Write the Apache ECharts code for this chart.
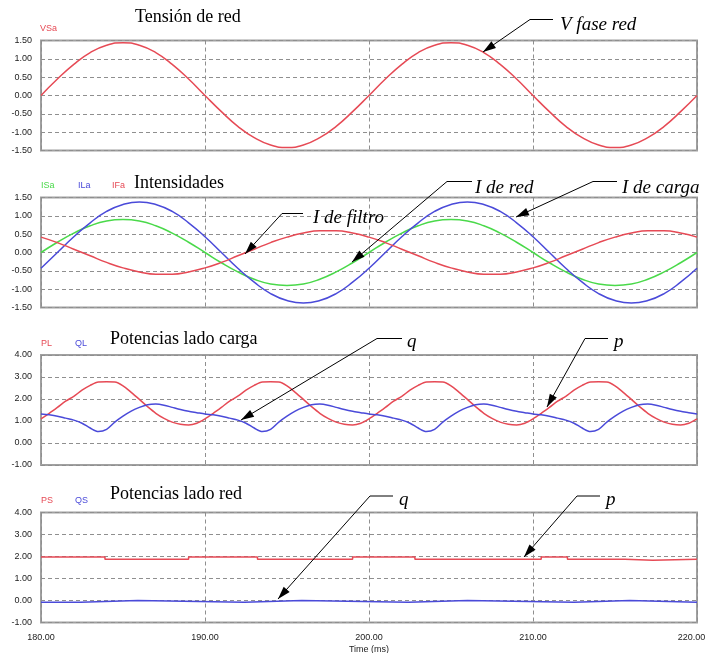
<!DOCTYPE html>
<html>
<head>
<meta charset="utf-8">
<script src="https://cdn.jsdelivr.net/npm/echarts@6/dist/echarts.min.js"></script>
<style>
    html, body { margin: 0; padding: 0; background: #fff; }
    #chart { width: 709px; height: 653px; }
</style>
</head>
<body>
<div id="chart"></div>
<script>
// tiempos de muestreo (ms)
const tCoarse = [180, 181, 182, 183, 184, 185, 186, 187, 188, 189, 190, 191, 192, 193, 194, 195, 196, 197, 198, 199,
    200, 201, 202, 203, 204, 205, 206, 207, 208, 209, 210, 211, 212, 213, 214, 215, 216, 217, 218, 219, 220];
const tFine = [180, 180.5, 181, 181.5, 182, 182.5, 183, 183.5, 184, 184.5, 185, 185.5, 186, 186.5, 187, 187.5, 188, 188.5, 189, 189.5,
    190, 190.5, 191, 191.5, 192, 192.5, 193, 193.5, 194, 194.5, 195, 195.5, 196, 196.5, 197, 197.5, 198, 198.5, 199, 199.5,
    200, 200.5, 201, 201.5, 202, 202.5, 203, 203.5, 204, 204.5, 205, 205.5, 206, 206.5, 207, 207.5, 208, 208.5, 209, 209.5,
    210, 210.5, 211, 211.5, 212, 212.5, 213, 213.5, 214, 214.5, 215, 215.5, 216, 216.5, 217, 217.5, 218, 218.5, 219, 219.5, 220];

// Tensión de red
const vSa = [0.00, 0.45, 0.85, 1.17, 1.37, 1.44, 1.37, 1.17, 0.85, 0.45, 0.00, -0.44, -0.84, -1.15, -1.35, -1.42, -1.35, -1.15, -0.84, -0.44,
    0.00, 0.45, 0.85, 1.17, 1.37, 1.44, 1.37, 1.17, 0.85, 0.45, 0.00, -0.44, -0.84, -1.15, -1.35, -1.42, -1.35, -1.15, -0.84, -0.44, 0.00];

// Intensidades
const iSa = [0.00, 0.28, 0.53, 0.73, 0.86, 0.90, 0.86, 0.73, 0.53, 0.28, 0.00, -0.28, -0.53, -0.73, -0.86, -0.90, -0.86, -0.73, -0.53, -0.28,
    0.00, 0.28, 0.53, 0.73, 0.86, 0.90, 0.86, 0.73, 0.53, 0.28, 0.00, -0.28, -0.53, -0.73, -0.86, -0.90, -0.86, -0.73, -0.53, -0.28, 0.00];
const iLa = [-0.43, 0.00, 0.43, 0.81, 1.12, 1.31, 1.38, 1.31, 1.12, 0.81, 0.43, 0.00, -0.43, -0.81, -1.12, -1.31, -1.38, -1.31, -1.12, -0.81,
    -0.43, 0.00, 0.43, 0.81, 1.12, 1.31, 1.38, 1.31, 1.12, 0.81, 0.43, 0.00, -0.43, -0.81, -1.12, -1.31, -1.38, -1.31, -1.12, -0.81, -0.43];
const iFa = [0.42, 0.27, 0.09, -0.09, -0.27, -0.42, -0.53, -0.59, -0.59, -0.53, -0.42, -0.27, -0.09, 0.09, 0.27, 0.42, 0.53, 0.59, 0.59, 0.53,
    0.42, 0.27, 0.09, -0.09, -0.27, -0.42, -0.53, -0.59, -0.59, -0.53, -0.42, -0.27, -0.09, 0.09, 0.27, 0.42, 0.53, 0.59, 0.59, 0.53, 0.42];

// Potencias lado carga
const pL = [1.10, 1.35, 1.62, 1.90, 2.12, 2.40, 2.62, 2.77, 2.78, 2.77, 2.60, 2.30, 1.98, 1.65, 1.35, 1.12, 0.95, 0.85, 0.82, 0.90,
    1.10, 1.35, 1.62, 1.90, 2.13, 2.40, 2.62, 2.77, 2.78, 2.77, 2.60, 2.30, 1.98, 1.65, 1.35, 1.12, 0.95, 0.85, 0.82, 0.90,
    1.10, 1.35, 1.62, 1.90, 2.12, 2.40, 2.62, 2.77, 2.78, 2.77, 2.60, 2.30, 1.98, 1.65, 1.35, 1.12, 0.95, 0.85, 0.82, 0.90,
    1.10, 1.35, 1.62, 1.90, 2.12, 2.40, 2.62, 2.77, 2.78, 2.77, 2.60, 2.30, 1.98, 1.65, 1.35, 1.12, 0.95, 0.85, 0.82, 0.90, 1.10];
const qL = [1.32, 1.28, 1.22, 1.13, 1.04, 0.90, 0.68, 0.52, 0.62, 0.95, 1.22, 1.45, 1.62, 1.74, 1.77, 1.72, 1.62, 1.52, 1.44, 1.38,
    1.32, 1.28, 1.22, 1.13, 1.04, 0.90, 0.68, 0.52, 0.62, 0.95, 1.22, 1.45, 1.62, 1.74, 1.77, 1.72, 1.62, 1.52, 1.44, 1.38,
    1.32, 1.28, 1.22, 1.13, 1.04, 0.90, 0.68, 0.52, 0.62, 0.95, 1.22, 1.45, 1.62, 1.74, 1.77, 1.72, 1.62, 1.52, 1.44, 1.38,
    1.32, 1.28, 1.22, 1.13, 1.04, 0.90, 0.68, 0.52, 0.62, 0.95, 1.22, 1.45, 1.62, 1.74, 1.77, 1.72, 1.62, 1.52, 1.44, 1.38, 1.32];

// Potencias lado red (escalones)
const psTime = [180, 183.9, 189.0, 193.2, 199.0, 202.8, 210.5, 212.1, 215.6, 217.3, 220];
const psValue = [1.98, 1.88, 1.98, 1.88, 1.98, 1.88, 1.98, 1.88, 1.83, 1.88, 1.88];
const qsTime = [180, 182.4, 185.9, 192.4, 195.9, 202.4, 206.0, 212.5, 215.9, 220];
const qsValue = [-0.08, 0.00, -0.08, 0.00, -0.08, 0.00, -0.08, 0.00, -0.08, -0.08];

const xTicks = [180, 220, 10];

const RED = '#e64a55';
const GREEN = '#4ad94a';
const BLUE = '#4a4ad9';
const serif = '"Liberation Serif", "Times New Roman", serif';
const sans = '"Liberation Sans", Arial, sans-serif';

const chart = echarts.init(document.getElementById('chart'));

const tops = [40.5, 197.5, 355, 512.5];
const grid = tops.map(top => ({
    left: 41, right: 12, top: top, height: 110,
    outerBoundsMode: 'none', containLabel: false,
    show: true, borderColor: '#a0a0a0', borderWidth: 2, backgroundColor: '#fff'
}));

const dashed = { show: true, lineStyle: { color: '#8f8f8f', type: [4, 3], width: 1 } };

const xAxis = tops.map((_, i) => ({
    type: 'value', gridIndex: i, min: xTicks[0], max: xTicks[1], interval: xTicks[2],
    axisLine: { show: false }, axisTick: { show: false },
    splitLine: dashed,
    axisLabel: {
        show: i === 3, fontSize: 9, color: '#222', fontFamily: sans, margin: 11,
        // la última etiqueta se desplaza un poco para que quepa
        formatter: v => v === xTicks[1] ? '{last|' + v.toFixed(2) + '}' : v.toFixed(2),
        rich: { last: { fontSize: 9, color: '#222', fontFamily: sans, padding: [0, 11, 0, 0] } }
    },
    name: i === 3 ? 'Time (ms)' : '',
    nameLocation: 'middle', nameGap: 23,
    nameTextStyle: { fontSize: 9, color: '#222', fontFamily: sans }
}));

const yRanges = [[-1.5, 1.5, 0.5], [-1.5, 1.5, 0.5], [-1, 4, 1], [-1, 4, 1]];
const yAxis = yRanges.map((r, i) => ({
    type: 'value', gridIndex: i, min: r[0], max: r[1], interval: r[2],
    axisLine: { show: false }, axisTick: { show: false },
    splitLine: dashed,
    axisLabel: { fontSize: 9, color: '#222', fontFamily: sans, margin: 9, formatter: v => v.toFixed(2) }
}));

const pairs = (ts, vs) => ts.map((t, i) => [t, vs[i]]);
const line = (idx, color, data, extra) => Object.assign({
    type: 'line', xAxisIndex: idx, yAxisIndex: idx, data: data,
    showSymbol: false, smooth: true, lineStyle: { color: color, width: 1.5 }, itemStyle: { color: color }
}, extra || {});

const series = [
    line(0, RED, pairs(tCoarse, vSa)),
    line(1, GREEN, pairs(tCoarse, iSa)),
    line(1, BLUE, pairs(tCoarse, iLa)),
    line(1, RED, pairs(tCoarse, iFa)),
    line(2, RED, pairs(tFine, pL), { smooth: 0.3 }),
    line(2, BLUE, pairs(tFine, qL), { smooth: 0.3 }),
    line(3, RED, pairs(psTime, psValue), { smooth: false, step: 'end' }),
    line(3, BLUE, pairs(qsTime, qsValue), { smooth: false, step: 'end' })
];

// textos y flechas
const text = (str, x, y, font, color, align) => ({
    type: 'text', x: x, y: y, z: 100,
    style: { text: str, font: font, fill: color || '#000', textAlign: align || 'left', textVerticalAlign: 'middle' }
});
const arrow = pts => {
    const [x1, y1] = pts[pts.length - 2];
    const [x2, y2] = pts[pts.length - 1];
    const a = Math.atan2(y2 - y1, x2 - x1), L = 13, W = 4;
    const bx = x2 - L * Math.cos(a), by = y2 - L * Math.sin(a);
    return [
        { type: 'polyline', z: 100, shape: { points: pts }, style: { stroke: '#000', lineWidth: 1, fill: null } },
        { type: 'polygon', z: 100, shape: { points: [[x2, y2], [bx + W * Math.sin(a), by - W * Math.cos(a)], [bx - W * Math.sin(a), by + W * Math.cos(a)]] }, style: { fill: '#000' } }
    ];
};

const small = '9px ' + sans;
const title = '18px ' + serif;
const ital = 'italic 19px ' + serif;

const graphic = [
    text('Tensión de red', 135, 17.5, title),
    text('Intensidades', 134, 183.5, title),
    text('Potencias lado carga', 110, 339, title),
    text('Potencias lado red', 110, 494, title),
    text('VSa', 40, 29, small, RED),
    text('ISa', 41, 186, small, GREEN),
    text('ILa', 78, 186, small, BLUE),
    text('IFa', 112, 186, small, RED),
    text('PL', 41, 344, small, RED),
    text('QL', 75, 344, small, BLUE),
    text('PS', 41, 500.5, small, RED),
    text('QS', 75, 500.5, small, BLUE),
    text('V fase red', 560, 25, ital),
    text('I de filtro', 313, 218, ital),
    text('I de red', 475, 188, ital),
    text('I de carga', 622, 188, ital),
    text('q', 407, 342, ital),
    text('p', 614, 342, ital),
    text('q', 399, 500, ital),
    text('p', 606, 500, ital),
    ...arrow([[553, 19.5], [530, 19.5], [483, 52]]),
    ...arrow([[303, 213.5], [282, 213.5], [245, 254]]),
    ...arrow([[472, 181.5], [447, 181.5], [352, 262]]),
    ...arrow([[617, 181.5], [593, 181.5], [516, 217]]),
    ...arrow([[402, 338.5], [377, 338.5], [241, 420]]),
    ...arrow([[608, 338.5], [585, 338.5], [547, 407]]),
    ...arrow([[393, 496], [370, 496], [278, 599]]),
    ...arrow([[600, 496], [577, 496], [524, 557]])
];

const option = {
    animation: false,
    backgroundColor: '#fff',
    grid,
    xAxis,
    yAxis,
    series,
    graphic
};

option && chart.setOption(option);
</script>
</body>
</html>
